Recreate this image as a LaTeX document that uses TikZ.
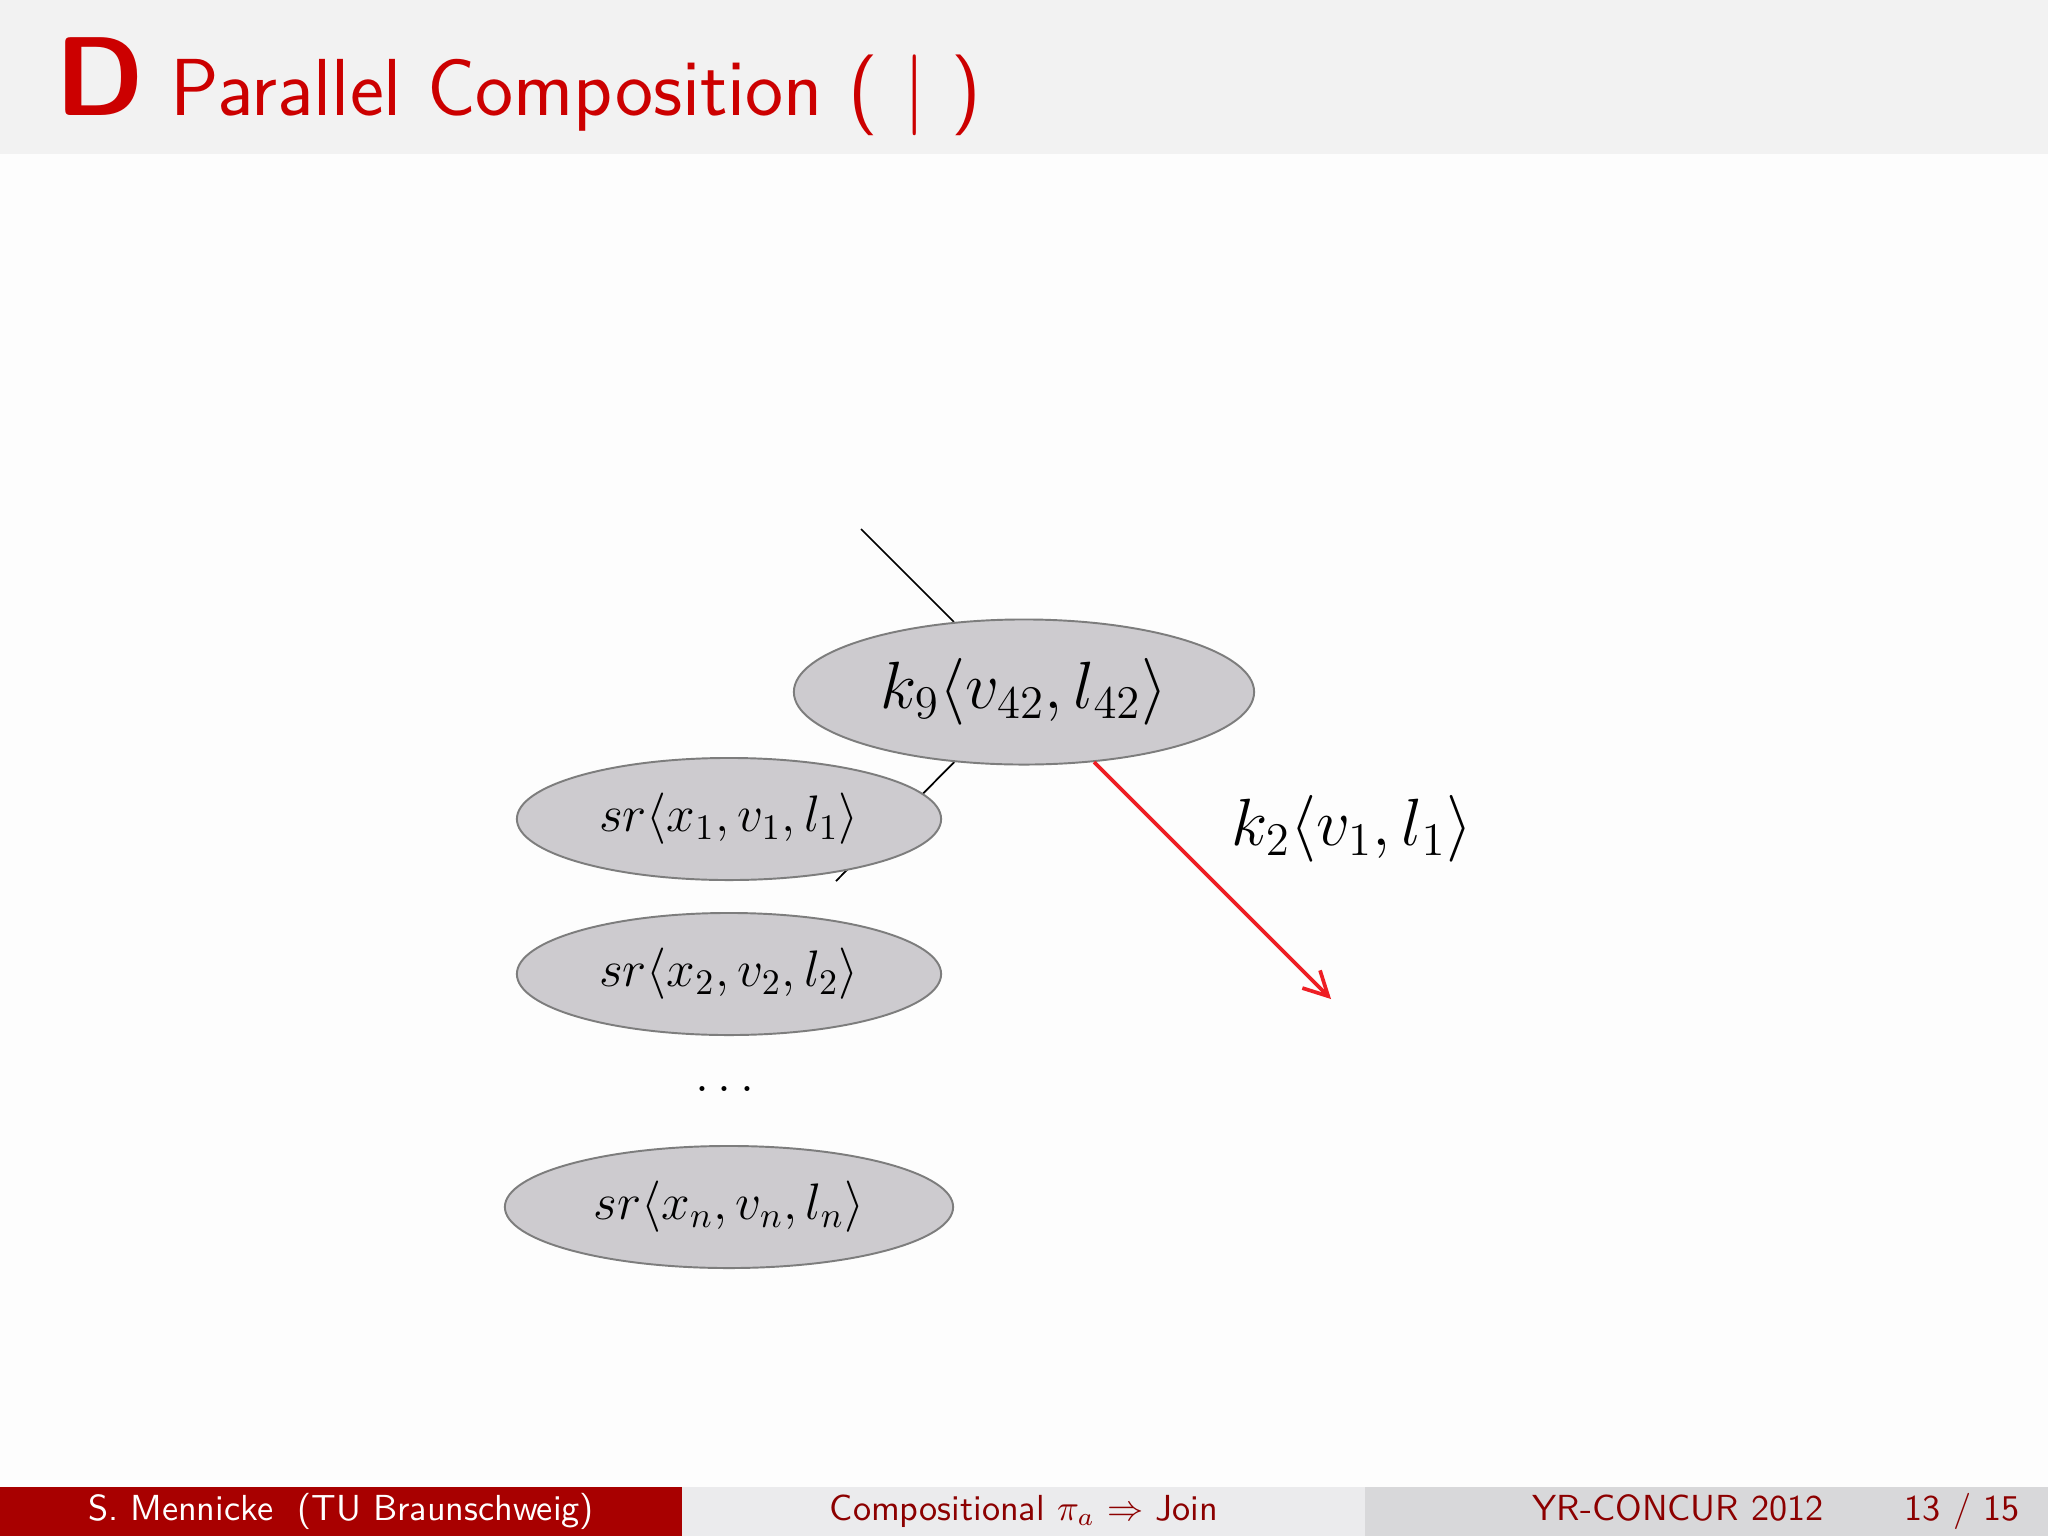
\RequirePackage{fix-cm}
\documentclass[tikz,border=0pt]{standalone}
\usetikzlibrary{shapes.geometric,arrows.meta}
\definecolor{pagebg}{RGB}{253,253,253}
\definecolor{titlebg}{RGB}{242,242,242}
\definecolor{titlered}{RGB}{204,0,0}
\definecolor{footred}{RGB}{168,0,0}
\definecolor{footmid}{RGB}{235,235,237}
\definecolor{footright}{RGB}{216,216,218}
\definecolor{foottext}{RGB}{140,0,0}
\definecolor{nodefill}{RGB}{205,203,207}
\definecolor{nodeborder}{RGB}{125,125,125}
\definecolor{arrowred}{RGB}{238,30,36}
\pgfdeclarelayer{bgl}
\pgfdeclarelayer{linel}
\pgfsetlayers{bgl,linel,main}
\tikzset{
  term/.style={ellipse, draw=nodeborder, fill=nodefill, line width=0.55pt, inner sep=0pt},
  bigterm/.style={term, minimum width=4.6cm, minimum height=1.45cm, font=\fontsize{19}{21}\selectfont},
  smallterm/.style={term, minimum width=4.24cm, minimum height=1.22cm, font=\fontsize{14.6}{16}\selectfont},
  treeedge/.style={draw=black, line width=0.5pt},
  redarrow/.style={draw=arrowred, line width=1.05pt, -{Straight Barb[length=2.4mm,width=2.5mm,line width=1.05pt]}},
  foottxt/.style={font=\sffamily\fontsize{10.3}{12}\selectfont, anchor=base, inner sep=0pt}
}
\begin{document}
\begin{tikzpicture}[x=0.01cm, y=-0.01cm]
\useasboundingbox (0,0) rectangle (2048,1536);
\begin{pgfonlayer}{bgl}
\fill[pagebg] (0,0) rectangle (2048,1536);
\fill[titlebg] (0,0) rectangle (2048,154);
\fill[footred] (0,1487) rectangle (682,1536);
\fill[footmid] (682,1487) rectangle (1365,1536);
\fill[footright] (1365,1487) rectangle (2048,1536);
\end{pgfonlayer}

% title
\node[anchor=base west, inner sep=0pt, text=titlered, font=\sffamily\bfseries\fontsize{31.9}{34}\selectfont] (tD) at (55,115) {D};
\node[anchor=base west, inner sep=0pt, text=titlered, font=\sffamily\fontsize{23}{26}\selectfont] (ttitle) at (170,115) {Parallel Composition ( | )};

% nodes
\node[bigterm] (k9) at (1024,692) {$k_9\langle v_{42}, l_{42}\rangle$};
\node[smallterm] (sr1) at (729,819) {$sr\langle x_1, v_1, l_1\rangle$};
\node[smallterm] (sr2) at (729,974) {$sr\langle x_2, v_2, l_2\rangle$};
\node[anchor=base, inner sep=0pt, font=\fontsize{14.6}{16}\selectfont] (dots) at (725,1091) {$\dots$};
\node[smallterm, minimum width=4.48cm] (srn) at (729,1207) {$sr\langle x_n, v_n, l_n\rangle$};
\node[font=\fontsize{19}{21}\selectfont, inner sep=0pt] (lab) at (1352,829) {$k_2\langle v_1, l_1\rangle$};

\coordinate (parent) at (861,529);
\coordinate (child) at (836,881);
\coordinate (target) at (1331,999);

\begin{pgfonlayer}{linel}
\draw[treeedge] (parent) -- (k9);
\draw[treeedge] (k9) -- (child);
\end{pgfonlayer}
\draw[redarrow] (k9) -- (target);

% footer
\node[foottxt, text=white] (f1) at (341,1520) {S. Mennicke~~(TU Braunschweig)};
\node[foottxt, text=foottext] (f2) at (1024,1520) {Compositional $\pi_a$ $\Rightarrow$ Join};
\node[foottxt, text=foottext, anchor=base west] (f3) at (1532,1520) {YR-CONCUR 2012};
\node[foottxt, text=foottext, anchor=base west] (f4) at (1904,1520) {13 / 15};
\end{tikzpicture}
\end{document}
